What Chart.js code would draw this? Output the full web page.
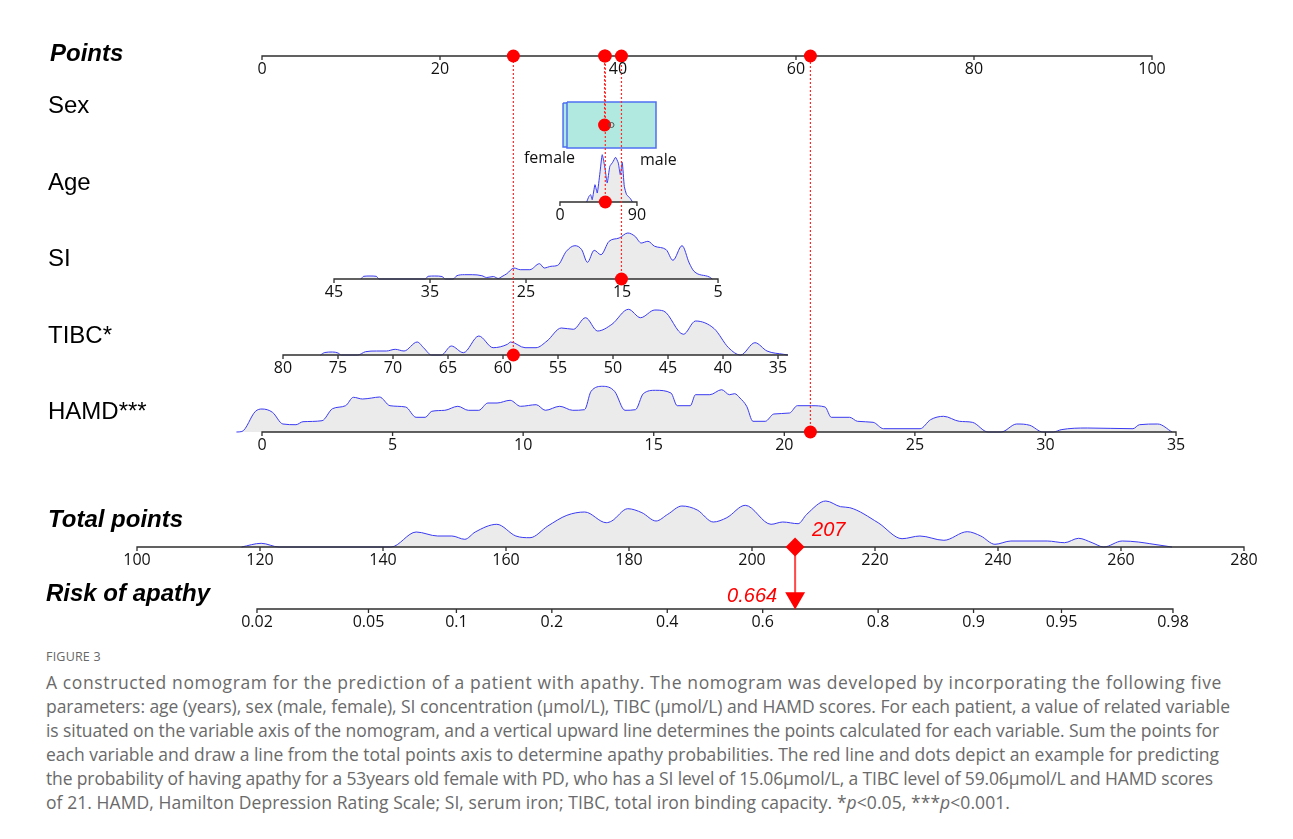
<!DOCTYPE html>
<html>
<head>
<meta charset="utf-8">
<script src="https://cdn.jsdelivr.net/npm/chart.js@4.4.0/dist/chart.umd.min.js"></script>
<style>
  body { margin: 0; background: #fff; }
  #wrap { position: relative; width: 1293px; height: 640px; }
  #caption { position: absolute; left: 46px; top: 646px; font-family: "Open Sans", sans-serif; color: #666; }
  #caption .fig { font-size: 12.5px; letter-spacing: 0.2px; height: 24px; line-height: 22px; }
  #caption .ln { height: 24px; line-height: 24px; white-space: nowrap; }
  #caption .ln span { display: inline-block; font-size: 17.5px; font-weight: 400; color: #6a6a6a; }
</style>
</head>
<body>
<div id="wrap"><canvas id="nomo" width="1293" height="640"></canvas></div>
<div id="caption">
  <div class="fig">FIGURE 3</div>
  <div class="ln"><span>A constructed nomogram for the prediction of a patient with apathy. The nomogram was developed by incorporating the following five</span></div>
  <div class="ln"><span>parameters: age (years), sex (male, female), SI concentration (μmol/L), TIBC (μmol/L) and HAMD scores. For each patient, a value of related variable</span></div>
  <div class="ln"><span>is situated on the variable axis of the nomogram, and a vertical upward line determines the points calculated for each variable. Sum the points for</span></div>
  <div class="ln"><span>each variable and draw a line from the total points axis to determine apathy probabilities. The red line and dots depict an example for predicting</span></div>
  <div class="ln"><span>the probability of having apathy for a 53years old female with PD, who has a SI level of 15.06μmol/L, a TIBC level of 59.06μmol/L and HAMD scores</span></div>
  <div class="ln"><span>of 21. HAMD, Hamilton Depression Rating Scale; SI, serum iron; TIBC, total iron binding capacity. *<i>p</i>&lt;0.05, ***<i>p</i>&lt;0.001.</span></div>
</div>
<script>
// ---- nomogram scales ----
const pointsTicks = [0, 20, 40, 60, 80, 100]

const sexLabels = ['female', 'male']
const sexPts = [38.49, 39.27]
const sexWidth = [9.33, 10.0]
const sexHeight = [44, 46]

const ageRange = [0, 90], agePts = [33.48, 42.13]
const ageTicks = [0, 90]
const siRange = [45, 5], siPts = [8.09, 51.24]
const siTicks = [45, 35, 25, 15, 5]
const tibcRange = [80, 35], tibcPts = [2.36, 57.98]
const tibcTicks = [80, 75, 70, 65, 60, 55, 50, 45, 40, 35]
const tibcEnd = 34.1
const hamdRange = [0, 35], hamdPts = [0, 102.7]
const hamdTicks = [0, 5, 10, 15, 20, 25, 30, 35]

const totalTicks = [100, 120, 140, 160, 180, 200, 220, 240, 260, 280]
const riskTicks = [0.02, 0.05, 0.1, 0.2, 0.4, 0.6, 0.8, 0.9, 0.95, 0.98]
const riskMid = 193.98, riskSlope = 0.05226

// ---- density curves (value, height) ----
const ageDensX = [31.2, 33.9, 35.9, 37.7, 40.9, 43.6, 46.7, 49.4, 52.6, 55.2, 58.3, 61.6, 65, 68.2, 70.5, 72.8, 75.2, 77.9, 81.8, 84.9]
const ageDensH = [0, 5.7, 7.3, 2.3, 17.3, 9, 29, 47.3, 34, 19, 35.7, 39.7, 44.7, 39, 27.3, 39.7, 15.7, 7.3, 4, 0]

const siDensX = [42.2, 41.9, 41.25, 40.6, 40.3, 35.5, 35.2, 34.5, 33.75, 33.4, 32.6, 32.2, 31.4, 30.6, 29.6, 29.1, 28.4, 27.9, 27.5, 27.0, 26.25, 25.6, 24.6, 23.6, 23.1, 22.4, 21.7, 20.8, 19.9, 19.2, 18.6, 17.9, 17.2, 16.35, 15.3, 14.4, 13.65, 13.0, 12.3, 11.6, 10.4, 9.7, 8.75, 8.0, 7.5, 5.9, 5.6]
const siDensH = [0, 2.7, 3, 2.7, 0, 0, 2.7, 3, 2.5, 0, 0, 3.3, 4.3, 4.3, 3.3, 1.5, 2.5, 0.5, 2.5, 5.3, 11, 9.3, 9.3, 15.3, 11, 12.7, 13.7, 27.7, 33.3, 29.3, 16.7, 28.7, 24.3, 37.7, 41, 46, 42.7, 36, 37.7, 32.7, 29.3, 18.7, 33.3, 16, 7.7, 2, 0]

const tibcDensX = [76.6, 76.2, 75.5, 75.0, 74.7, 73.2, 72.5, 71.5, 70.6, 69.8, 69, 67.8, 67.2, 66.5, 65.6, 64.7, 63.6, 62.2, 60.9, 59.6, 59.3, 58, 57, 56, 54.7, 53.6, 52.5, 51.4, 50.1, 48.6, 47.5, 46.2, 45.4, 43.6, 42.5, 40.8, 39.5, 38.4, 37.1, 36, 34.5, 34.1]
const tibcDensH = [0, 2.5, 3, 2, 0, 0, 3.3, 4, 4, 5.7, 4, 13, 7, 0, 0, 9, 2.3, 19, 7.3, 10.7, 13, 7.3, 7.3, 14, 27, 25.7, 37.3, 24, 30.7, 45.7, 37.3, 45, 44, 20.7, 34, 26.3, 7.3, 0, 12.3, 4, 0.7, 0]

const hamdDensX = [-0.98, -0.77, -0.25, 0, 0.4, 0.8, 1.3, 1.57, 2.3, 2.7, 3.2, 3.5, 3.85, 4.2, 4.5, 4.9, 5.5, 5.9, 6.25, 6.5, 7.0, 7.5, 7.9, 8.3, 8.65, 9.0, 9.5, 9.9, 10.5, 10.85, 11.4, 11.9, 12.35, 12.6, 13.05, 13.5, 13.9, 14.3, 14.6, 15.07, 15.66, 15.9, 16.4, 16.6, 17.15, 17.6, 17.9, 18.1, 18.3, 18.56, 18.8, 19.27, 19.6, 20.2, 20.5, 21.05, 21.56, 21.8, 22.5, 22.8, 23.4, 23.8, 25.2, 25.6, 26.1, 26.7, 27.2, 27.8, 28.3, 28.9, 29.4, 29.9, 30.3, 30.6, 31.6, 33.35, 33.6, 34.3, 34.85]
const hamdDensH = [0, 0.5, 20.7, 23, 19.7, 8, 7.3, 10.3, 11.3, 23.3, 26.3, 34.7, 33, 34, 35, 26.3, 25, 14.7, 14.7, 20.7, 21.7, 25.7, 21.7, 21.7, 29, 29, 31.7, 25.7, 27.3, 21.7, 25.7, 21.7, 22.3, 40.7, 45.7, 40.7, 21.7, 22.3, 38.3, 41.7, 39, 26.3, 26.3, 37.3, 37.3, 42.3, 37.3, 38.3, 34, 25.7, 10.7, 10.7, 18, 19, 26.3, 26.3, 25, 14.7, 14.7, 10.7, 9.7, 3.3, 3.3, 12.3, 15.7, 10.7, 9.7, 0, 0, 8, 6.7, 0, 0, 2.3, 4, 3.3, 7.3, 8, 0]

const totalDensX = [117, 120.2, 123.1, 141.3, 145.4, 148.9, 151.2, 153.3, 155, 158.5, 161.6, 163.9, 166.8, 169.9, 172.8, 176.3, 177.2, 179.8, 182.1, 184.4, 186.3, 188.6, 191.1, 193.7, 195.9, 198.9, 203.1, 205, 207.5, 208.9, 212, 214.4, 215.9, 220.5, 224.4, 227.3, 231.2, 235, 237.2, 239.5, 242.1, 248, 250.8, 253.1, 255.3, 257.2, 260.2, 262.8, 264.7, 268.3]
const totalDensH = [0, 3.7, 0, 0, 15, 11, 11, 7.7, 15, 22.7, 11, 9.3, 21, 31.7, 35, 24.3, 26, 38.3, 34.3, 26, 32.7, 41, 37, 25, 29.3, 41.7, 22.7, 25, 23.3, 32.7, 46, 40.3, 39.3, 24.3, 8.3, 11, 6.7, 15.3, 11, 2.7, 6, 6, 4.3, 8.7, 4.3, 0, 6, 5, 3.3, 0]

// ---- example patient ----
const exSex = 'female', exAge = 53, exSI = 15.06, exTIBC = 59.06, exHAMD = 21
const exTotal = 207, exRisk = 0.664

// ---- layout ----
const W = 1293, H = 640
const rowY = { points: 56, sex: 125, age: 202, si: 279, tibc: 355, hamd: 432, total: 547, risk: 609 }
const PTS0 = 262, PTS_PX = 8.9      // pixel of 0 points, px per point
const TOT0 = 137, TOT_PX = 6.15     // pixel of 100 total points, px per unit
const captionRight = [1222, 1230, 1219, 1219, 1213, 1010]

const ptsOf = (v, range, pts) => pts[0] + (v - range[0]) * (pts[1] - pts[0]) / (range[1] - range[0])
const ageP = v => ptsOf(v, ageRange, agePts)
const siP = v => ptsOf(v, siRange, siPts)
const tibcP = v => ptsOf(v, tibcRange, tibcPts)
const hamdP = v => ptsOf(v, hamdRange, hamdPts)
const riskT = p => riskMid + Math.log(p / (1 - p)) / riskSlope

function density(xs, hs, conv, y, axisID, tension) {
  const pts = xs.map((v, i) => ({ x: conv(v), y: y - hs[i] })).sort((a, b) => a.x - b.x)
  const ds = {
    data: pts, xAxisID: axisID, showLine: true, pointRadius: 0,
    borderColor: '#3a3af2', borderWidth: 1, backgroundColor: '#ebebeb',
    fill: { value: y }, clip: false, order: 60
  }
  if (tension) ds.tension = tension
  else ds.cubicInterpolationMode = 'monotone'
  return ds
}

function axisLine(from, to, ticks, conv, y, axisID) {
  const xs = ticks.map(conv).sort((a, b) => a - b)
  const a = Math.min(conv(from), conv(to)), b = Math.max(conv(from), conv(to))
  const data = [{ x: a, y: y }]
  xs.forEach(t => { data.push({ x: t, y: y }, { x: t, y: y + 4 }, { x: t, y: y }) })
  data.push({ x: b, y: y })
  return { data, xAxisID: axisID, showLine: true, pointRadius: 0, borderColor: '#2e2e2e', borderWidth: 1.3, fill: false, clip: false, order: 40 }
}

function sexBox(i) {
  const c = sexPts[i], w = sexWidth[i], h = sexHeight[i]
  const top = rowY.sex - h / 2, bot = rowY.sex + h / 2
  return [
    { data: [{ x: c - w / 2, y: top }, { x: c + w / 2, y: top }], xAxisID: 'x', showLine: true, pointRadius: 0,
      borderWidth: 0, borderColor: 'rgba(0,0,0,0)', backgroundColor: '#b1e8df', fill: { value: bot }, clip: false, order: 55 - 2 * i },
    { data: [{ x: c - w / 2, y: top }, { x: c + w / 2, y: top }, { x: c + w / 2, y: bot }, { x: c - w / 2, y: bot }, { x: c - w / 2, y: top }],
      xAxisID: 'x', showLine: true, pointRadius: 0, borderColor: '#4f6ff2', borderWidth: 1.5, fill: false, clip: false, order: 54 - 2 * i }
  ]
}

// example points per variable
const exRows = [
  { p: sexPts[sexLabels.indexOf(exSex)], y: rowY.sex },
  { p: ageP(exAge), y: rowY.age },
  { p: siP(exSI), y: rowY.si },
  { p: tibcP(exTIBC), y: rowY.tibc },
  { p: hamdP(exHAMD), y: rowY.hamd }
]

const datasets = [
  density(ageDensX, ageDensH, ageP, rowY.age, 'x', 0.15),
  density(siDensX, siDensH, siP, rowY.si, 'x'),
  density(tibcDensX, tibcDensH, tibcP, rowY.tibc, 'x'),
  density(hamdDensX, hamdDensH, hamdP, rowY.hamd, 'x'),
  density(totalDensX, totalDensH, v => v, rowY.total, 'xt'),
  ...sexBox(1), ...sexBox(0),
  axisLine(0, 100, pointsTicks, v => v, rowY.points, 'x'),
  axisLine(ageRange[0], ageRange[1], ageTicks, ageP, rowY.age, 'x'),
  axisLine(siRange[0], siRange[1], siTicks, siP, rowY.si, 'x'),
  axisLine(tibcRange[0], tibcEnd, tibcTicks, tibcP, rowY.tibc, 'x'),
  axisLine(hamdRange[0], hamdRange[1], hamdTicks, hamdP, rowY.hamd, 'x'),
  axisLine(100, 280, totalTicks, v => v, rowY.total, 'xt'),
  axisLine(riskTicks[0], riskTicks[riskTicks.length - 1], riskTicks, riskT, rowY.risk, 'xt'),
  // male marker
  { data: [{ x: sexPts[1], y: rowY.sex }], xAxisID: 'x', pointRadius: 2.5, pointBorderWidth: 1,
    pointBorderColor: '#555', pointBackgroundColor: 'rgba(255,255,255,0)', order: 9 },
  // example: dotted guides, dots
  ...exRows.map(r => ({
    data: [{ x: r.p, y: r.y }, { x: r.p, y: rowY.points }], xAxisID: 'x', showLine: true, pointRadius: 0,
    borderColor: '#ff2a2a', borderWidth: 1.2, borderDash: [2, 2], fill: false, clip: false, order: 30
  })),
  { data: exRows.flatMap(r => [{ x: r.p, y: r.y }, { x: r.p, y: rowY.points }]), xAxisID: 'x',
    pointRadius: 6.5, pointBackgroundColor: '#ff0000', pointBorderWidth: 0, clip: false, order: 10 },
  // total -> risk arrow
  { data: [{ x: exTotal, y: rowY.total }, { x: riskT(exRisk), y: rowY.risk - 12 }], xAxisID: 'xt', showLine: true,
    pointRadius: 0, borderColor: '#ff4a4a', borderWidth: 2, fill: false, clip: false, order: 8 },
  { data: [{ x: exTotal, y: rowY.total }], xAxisID: 'xt', pointStyle: 'rectRot', pointRadius: 9.5,
    pointBackgroundColor: '#ff0000', pointBorderWidth: 0, clip: false, order: 5 },
  { data: [{ x: riskT(exRisk), y: rowY.risk - 11 }], xAxisID: 'xt', pointStyle: 'triangle', pointRotation: 180, pointRadius: 11.5,
    pointBackgroundColor: '#ff0000', pointBorderWidth: 0, clip: false, order: 5 }
]

const textPlugin = {
  id: 'nomoText',
  afterDatasetsDraw(chart) {
    const ctx = chart.ctx, x = chart.scales.x, xt = chart.scales.xt
    ctx.save()
    ctx.fillStyle = '#000'
    ctx.textAlign = 'left'
    ctx.textBaseline = 'middle'
    const bi = 'italic bold 24px "Liberation Sans", Arial, sans-serif'
    const rg = '24px "Liberation Sans", Arial, sans-serif'
    ;[['Points', 50, 54, bi], ['Sex', 48, 106, rg], ['Age', 48, 183, rg], ['SI', 48, 259, rg],
      ['TIBC*', 48, 336, rg], ['HAMD***', 48, 412, rg], ['Total points', 48, 520, bi], ['Risk of apathy', 46, 594, bi]]
      .forEach(([t, lx, ly, f]) => { ctx.font = f; ctx.fillText(t, lx, ly) })

    ctx.font = '16px "Open Sans", sans-serif'
    ctx.textAlign = 'center'
    ctx.textBaseline = 'alphabetic'
    ctx.fillStyle = '#111'
    const tickRow = (ticks, conv, scale, y) => ticks.forEach(t =>
      ctx.fillText(String(t), scale.getPixelForValue(conv(t)), y + 17.5))
    tickRow(pointsTicks, v => v, x, rowY.points)
    tickRow(ageTicks, ageP, x, rowY.age)
    tickRow(siTicks, siP, x, rowY.si)
    tickRow(tibcTicks, tibcP, x, rowY.tibc)
    tickRow(hamdTicks, hamdP, x, rowY.hamd)
    tickRow(totalTicks, v => v, xt, rowY.total)
    tickRow(riskTicks, riskT, xt, rowY.risk)

    // sex category labels
    const fl = x.getPixelForValue(sexPts[0] - sexWidth[0] / 2)
    const mr = x.getPixelForValue(sexPts[1] + sexWidth[1] / 2)
    ctx.textAlign = 'right'
    ctx.fillText(sexLabels[0], fl + 12, 163)
    ctx.textAlign = 'left'
    ctx.fillText(sexLabels[1], mr - 16, 165)

    // example values
    ctx.fillStyle = '#ff0000'
    ctx.font = 'italic 20px "Liberation Sans", Arial, sans-serif'
    ctx.textBaseline = 'middle'
    ctx.textAlign = 'left'
    ctx.fillText(String(exTotal), xt.getPixelForValue(exTotal) + 17, rowY.total - 17)
    ctx.textAlign = 'right'
    ctx.fillText(exRisk.toFixed(3), xt.getPixelForValue(riskT(exRisk)) - 18, rowY.risk - 13)
    ctx.restore()
  }
}

new Chart(document.getElementById('nomo'), {
  type: 'scatter',
  data: { datasets },
  options: {
    responsive: false,
    animation: false,
    events: [],
    layout: { padding: 0, autoPadding: false },
    plugins: { legend: { display: false }, tooltip: { enabled: false } },
    scales: {
      x: { type: 'linear', display: false, min: -PTS0 / PTS_PX, max: (W - PTS0) / PTS_PX },
      xt: { type: 'linear', axis: 'x', display: false, min: 100 - TOT0 / TOT_PX, max: 100 + (W - TOT0) / TOT_PX },
      y: { type: 'linear', display: false, min: 0, max: H, reverse: true }
    }
  },
  plugins: [textPlugin]
})

// stretch each caption line to the width it has in the figure
document.querySelectorAll('#caption .ln span').forEach((s, i) => {
  const w = s.getBoundingClientRect().width
  const n = s.textContent.length
  s.style.letterSpacing = ((captionRight[i] - 46 - w) / n) + 'px'
})
</script>
</body>
</html>
